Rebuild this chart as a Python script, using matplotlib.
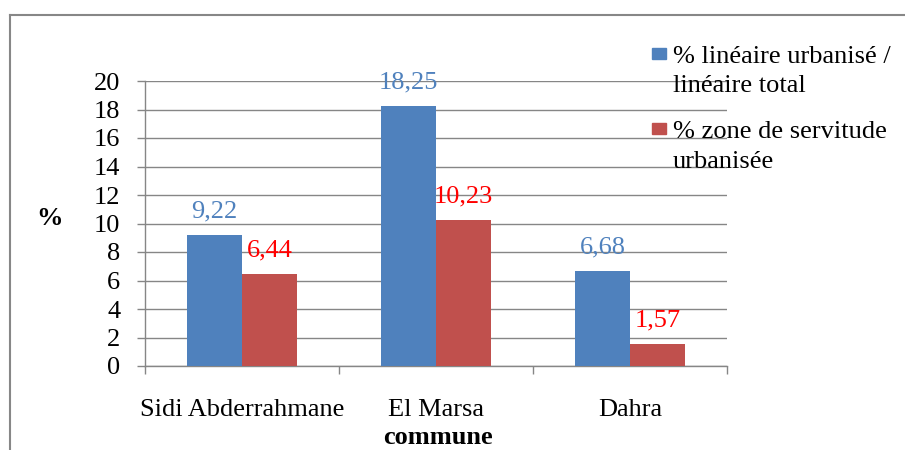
import matplotlib
matplotlib.use("Agg")
import matplotlib.pyplot as plt
import matplotlib.patches as mpatches
from matplotlib.lines import Line2D
import numpy as np

plt.rcParams["font.family"] = ["Liberation Serif", "DejaVu Serif"]

communes = ["Sidi Abderrahmane", "El Marsa", "Dahra"]
series_names = ["% linéaire urbanisé /\nlinéaire total",
                "% zone de servitude\nurbanisée"]
lineaire = [9.22, 18.25, 6.68]
servitude = [6.44, 10.23, 1.57]
yticks = list(range(0, 21, 2))

BLUE = "#4F81BD"
RED = "#C0504D"
LBL_BLUE = "#4F81BD"
LBL_RED = "#FF0000"
GRID = "#868686"
FS = 19

fig = plt.figure(figsize=(9.05, 4.5), dpi=100)
fig.patch.set_facecolor("white")
ax = fig.add_axes([145 / 905, 1 - 366 / 450, 582 / 905, 285 / 450])

x = np.arange(len(communes))
w = 0.2835
b1 = ax.bar(x - w / 2, lineaire, w, color=BLUE, zorder=3)
b2 = ax.bar(x + w / 2, servitude, w, color=RED, zorder=3)

for bars, vals, col in [(b1, lineaire, LBL_BLUE), (b2, servitude, LBL_RED)]:
    for r, v in zip(bars, vals):
        ax.annotate(f"{v:.2f}".replace(".", ","),
                    (r.get_x() + r.get_width() / 2, r.get_height()),
                    xytext=(0, 12.5), textcoords="offset points",
                    ha="center", va="baseline", fontsize=FS, color=col)

ax.set_xlim(-0.5, 2.5)
ax.set_ylim(0, 20)
ax.set_yticks(yticks)
ax.set_yticklabels([str(t) for t in yticks], fontsize=FS)
ax.set_xticks(x)
ax.set_xticklabels(communes, fontsize=FS)
ax.set_xticks(np.arange(-0.5, 3.0, 1.0), minor=True)
ax.tick_params(axis="x", which="major", length=0, pad=23.5)
ax.tick_params(axis="x", which="minor", length=5.5, width=1.0, color=GRID)
ax.tick_params(axis="y", length=5.8, width=1.0, color=GRID, pad=12)
ax.yaxis.grid(True, color=GRID, linewidth=1.0, zorder=0)
ax.set_axisbelow(True)
for s in ["top", "right"]:
    ax.spines[s].set_visible(False)
for s in ["left", "bottom"]:
    ax.spines[s].set_color(GRID)
    ax.spines[s].set_linewidth(1.0)

ax.set_xlabel("commune", fontsize=FS, fontweight="bold", va="baseline")
ax.xaxis.set_label_coords((438 - 145) / 582, (366 - 444) / 285)
ax.set_ylabel("%", fontsize=FS, fontweight="bold", rotation=0,
              ha="center", va="center")
ax.yaxis.set_label_coords((49 - 145) / 582, (366 - 218) / 285)

# legend, drawn by hand so the square sits on the first line
for i, (name, col) in enumerate(zip(series_names, [BLUE, RED])):
    base = 63 + i * 75
    fig.patches.append(mpatches.Rectangle((652 / 905, 1 - (base - 4) / 450),
                                          14 / 905, 11 / 450, color=col,
                                          transform=fig.transFigure))
    for j, line in enumerate(name.split("\n")):
        fig.text(673 / 905, 1 - (base + j * 29.5) / 450, line, fontsize=FS,
                 ha="left", va="baseline")

# outer frame
fig.lines.append(Line2D([10 / 905, 1.0], [1 - 15 / 450] * 2, color="#878787",
                        linewidth=1.5, transform=fig.transFigure))
fig.lines.append(Line2D([10 / 905] * 2, [0, 1 - 15 / 450], color="#878787",
                        linewidth=1.5, transform=fig.transFigure))

fig.savefig("out.png", dpi=100)
